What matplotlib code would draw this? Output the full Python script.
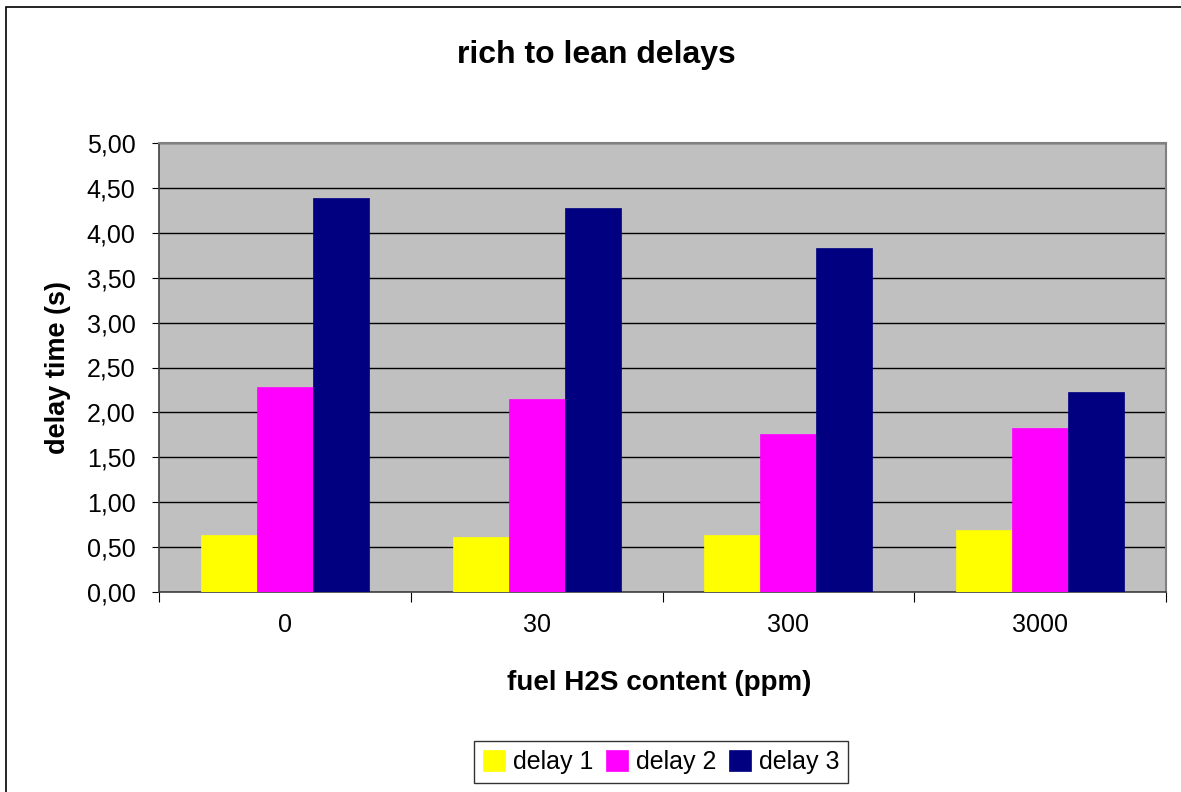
import numpy as np
import matplotlib
matplotlib.use("Agg")
from matplotlib import pyplot as plt
from matplotlib.patches import Rectangle

plt.rcParams['font.family'] = ['Liberation Sans', 'DejaVu Sans']

# data
categories = ["0", "30", "300", "3000"]
delay1 = [0.63, 0.61, 0.63, 0.69]
delay2 = [2.28, 2.15, 1.76, 1.83]
delay3 = [4.39, 4.28, 3.83, 2.23]
series_names = ["delay 1", "delay 2", "delay 3"]
colors = ["#FFFF00", "#FF00FF", "#000080"]
yticks = np.arange(0, 5.01, 0.5)
ytick_labels = [("%.2f" % v).replace(".", ",") for v in yticks]

W, H = 1181, 792
fig = plt.figure(figsize=(W / 100, H / 100), dpi=100)
# outer chart frame
fig.patches.append(Rectangle((6 / W, -0.1), 1.2, 1 - 7 / H + 0.1, transform=fig.transFigure,
                             fill=False, edgecolor="black", linewidth=1.2))

ax = fig.add_axes([159 / W, 1 - 591.7 / H, (1166 - 159) / W, (591.7 - 143.3) / H])
ax.set_facecolor("#C0C0C0")

# excel style: gap width 150% -> bar width = 1/(3+1.5)
width = 1 / 4.5
x = np.arange(len(categories))
for i, (vals, name, c) in enumerate(zip([delay1, delay2, delay3], series_names, colors)):
    ax.bar(x + (i - 1) * width, vals, width, color=c, label=name, zorder=3,
           edgecolor=c, linewidth=0.5)

ax.set_xlim(-0.5, len(categories) - 0.5)
ax.set_ylim(0, 5)
ax.set_yticks(yticks)
ax.set_yticklabels(ytick_labels, fontsize=18)
ax.yaxis.grid(True, color="black", linewidth=1, zorder=1)
ax.set_axisbelow(True)

# category labels between boundary ticks
ax.set_xticks(np.arange(-0.5, len(categories), 1))
ax.set_xticklabels([])
ax.set_xticks(x, minor=True)
ax.set_xticklabels(categories, minor=True, fontsize=18)
ax.tick_params(axis="x", which="minor", length=0, pad=15)
ax.tick_params(axis="x", which="major", length=7, direction="out", color="black")
ax.tick_params(axis="y", length=5, direction="out", pad=12)

for side in ["top", "right"]:
    ax.spines[side].set_color("#808080")
    ax.spines[side].set_linewidth(1.5)
for side in ["left", "bottom"]:
    ax.spines[side].set_color("#404040")
    ax.spines[side].set_linewidth(1.2)

fig.text(596 / W, 1 - 55 / H, "rich to lean delays", fontsize=23, fontweight="bold",
         ha="center", va="center")
fig.text(659 / W, 1 - 683 / H, "fuel H2S content (ppm)", fontsize=20, fontweight="bold",
         ha="center", va="center")
fig.text(58 / W, 1 - 368 / H, "delay time (s)", fontsize=19.5, fontweight="bold",
         ha="center", va="center", rotation=90)

leg = fig.legend(loc="center", bbox_to_anchor=(661 / W, 1 - 762 / H), ncol=3,
                 fontsize=18, frameon=True, fancybox=False, edgecolor="black",
                 handlelength=0.9, handleheight=0.9, handletextpad=0.3, columnspacing=0.5,
                 borderpad=0.35)
leg.get_frame().set_linewidth(1)

fig.savefig("out.png", dpi=100)
